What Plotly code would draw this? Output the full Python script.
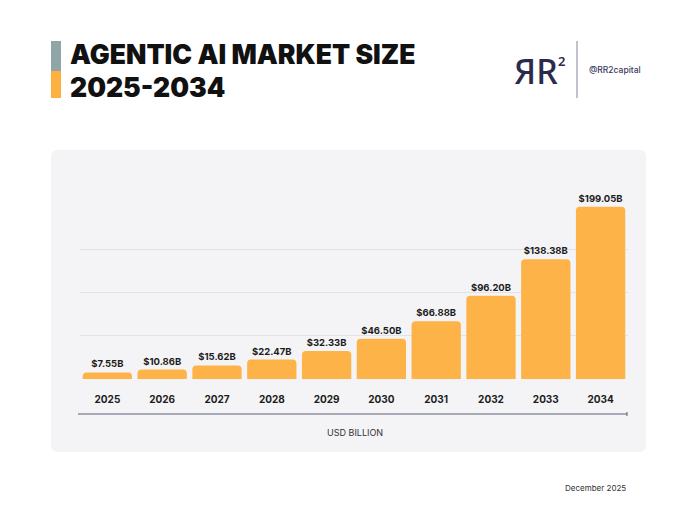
import plotly.graph_objects as go

years = ["2025", "2026", "2027", "2028", "2029", "2030", "2031", "2032", "2033", "2034"]
market_size = [7.55, 10.86, 15.62, 22.47, 32.33, 46.50, 66.88, 96.20, 138.38, 199.05]
value_labels = ["$7.55B", "$10.86B", "$15.62B", "$22.47B", "$32.33B",
                "$46.50B", "$66.88B", "$96.20B", "$138.38B", "$199.05B"]
grid_vals = [50, 100, 150, 200]

# page body has an 8px margin, so work in window pixels and shift
OFF = 8
W, H = 680 - OFF, 510 - OFF


def px_x(x):
    return (x - OFF) / W


def px_y(y):
    return 1 - (y - OFF) / H


def rounded_rect(x0, y0, x1, y1, r):
    # path in paper units, corners given in window pixels
    X = lambda v: px_x(v)
    Y = lambda v: px_y(v)
    return (f"M {X(x0 + r)},{Y(y0)} L {X(x1 - r)},{Y(y0)} Q {X(x1)},{Y(y0)} {X(x1)},{Y(y0 + r)} "
            f"L {X(x1)},{Y(y1 - r)} Q {X(x1)},{Y(y1)} {X(x1 - r)},{Y(y1)} "
            f"L {X(x0 + r)},{Y(y1)} Q {X(x0)},{Y(y1)} {X(x0)},{Y(y1 - r)} "
            f"L {X(x0)},{Y(y0 + r)} Q {X(x0)},{Y(y0)} {X(x0 + r)},{Y(y0)} Z")


fig = go.Figure()

fig.add_trace(go.Bar(
    x=years, y=market_size,
    text=value_labels, textposition="outside",
    textfont=dict(family="Inter, Lato, sans-serif", size=9.5, color="#1c1c1c", weight=700),
    marker=dict(color="#FDB347", line_width=0, cornerradius=4),
    cliponaxis=False,
    hoverinfo="skip",
))

shapes = [
    # chart panel
    dict(type="path", xref="paper", yref="paper",
         path=rounded_rect(51, 150, 646, 452, 7),
         fillcolor="#F4F4F6", line_width=0, layer="below"),
    # title colour bars
    dict(type="rect", xref="paper", yref="paper",
         x0=px_x(51), x1=px_x(61), y0=px_y(71), y1=px_y(41),
         fillcolor="#8FA5A6", line_width=0),
    dict(type="rect", xref="paper", yref="paper",
         x0=px_x(51), x1=px_x(61), y0=px_y(98), y1=px_y(71),
         fillcolor="#FBB040", line_width=0),
    # logo divider
    dict(type="line", xref="paper", yref="paper",
         x0=px_x(577), x1=px_x(577), y0=px_y(98), y1=px_y(41),
         line=dict(color="#9A9AB0", width=1.2)),
    # bottom axis line
    dict(type="line", xref="paper", yref="paper",
         x0=px_x(78), x1=px_x(627), y0=px_y(414), y1=px_y(414),
         line=dict(color="#5C5C78", width=1.2)),
    dict(type="line", xref="paper", yref="paper",
         x0=px_x(627), x1=px_x(627), y0=px_y(416), y1=px_y(412),
         line=dict(color="#5C5C78", width=1)),
]

annotations = [
    dict(text="AGENTIC AI MARKET SIZE", x=px_x(68), y=px_y(54),
         font=dict(family="Inter, Lato, sans-serif", size=26.5, color="#111111", weight=900)),
    dict(text="2025-2034", x=px_x(68), y=px_y(87),
         font=dict(family="Inter, Lato, sans-serif", size=26.5, color="#111111", weight=900)),
    dict(text="ЯR", x=px_x(512), y=px_y(71),
         font=dict(family="Noto Sans, sans-serif", size=34, color="#2B2A4C", weight=500)),
    dict(text="2", x=px_x(556), y=px_y(61),
         font=dict(family="Noto Sans, sans-serif", size=13, color="#2B2A4C", weight=600)),
    dict(text="@RR2capital", x=px_x(587), y=px_y(70),
         font=dict(family="Inter, sans-serif", size=8.5, color="#3A3A5A", weight=500)),
    dict(text="USD BILLION", x=px_x(355), y=px_y(432), xanchor="center",
         font=dict(family="Inter, sans-serif", size=9, color="#333333")),
    dict(text="December 2025", x=px_x(628), y=px_y(488), xanchor="right",
         font=dict(family="Inter, sans-serif", size=8, color="#333333")),
]
for a in annotations:
    a.setdefault("xanchor", "left")
    a.update(xref="paper", yref="paper", yanchor="middle", showarrow=False)

fig.update_layout(
    width=W, height=H,
    margin=dict(l=0, r=0, t=0, b=0),
    paper_bgcolor="white",
    plot_bgcolor="rgba(0,0,0,0)",
    showlegend=False,
    bargap=0.1,
    shapes=shapes,
    annotations=annotations,
    xaxis=dict(domain=[px_x(80), px_x(628)], showgrid=False, showline=False,
               ticks="", ticklabelstandoff=13,
               tickfont=dict(family="Inter, sans-serif", size=10, color="#1c1c1c", weight=700)),
    yaxis=dict(domain=[px_y(379), px_y(206)], range=[0, 200],
               tickmode="array", tickvals=grid_vals, showticklabels=False,
               showgrid=True, gridcolor="#E2E2E6", gridwidth=1,
               zeroline=False, showline=False),
)

fig.write_html("out.html")
